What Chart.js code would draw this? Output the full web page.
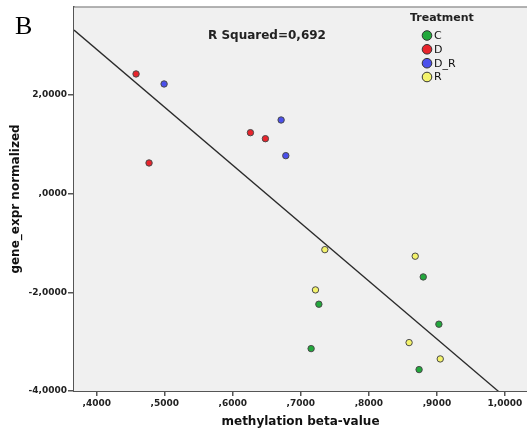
<!DOCTYPE html>
<html>
<head>
<meta charset="utf-8">
<script src="https://cdn.jsdelivr.net/npm/chart.js@4/dist/chart.umd.min.js"></script>
<style>
html,body{margin:0;padding:0;background:#fff;}
#wrap{width:527px;height:429px;position:relative;}
</style>
</head>
<body>
<div id="wrap"><canvas id="c" width="527" height="429"></canvas></div>
<script>
// ---- data ----
const groupNames = ['C', 'D', 'D_R', 'R'];
const groupColors = ['#22a83c', '#e8242c', '#4b50ec', '#f4f36c'];

const cX = [0.8799, 0.7265, 0.9029, 0.7151, 0.8738];
const cY = [-1.688, -2.241, -2.646, -3.141, -3.566];

const dX = [0.4578, 0.4769, 0.6259, 0.6479];
const dY = [2.426, 0.622, 1.236, 1.114];

const drX = [0.4990, 0.6710, 0.6779];
const drY = [2.223, 1.493, 0.770];

const rX = [0.7353, 0.8681, 0.7215, 0.8591, 0.9049];
const rY = [-1.135, -1.268, -1.951, -3.019, -3.350];

const fitIntercept = 7.62;
const fitSlope = -11.74;
const rSquaredText = 'R Squared=0,692';

const xTicks = [0.4, 0.5, 0.6, 0.7, 0.8, 0.9, 1.0];
const xTickLabels = [',4000', ',5000', ',6000', ',7000', ',8000', ',9000', '1,0000'];
const yTicks = [-4, -2, 0, 2];
const yTickLabels = ['-4,0000', '-2,0000', ',0000', '2,0000'];

const xMin = 0.3666, xMax = 1.0324;
const yMin = -4.0, yMax = 3.783;

// ---- build ----
function pts(xs, ys) { return xs.map((x, i) => ({x: x, y: ys[i]})); }
const groupsX = [cX, dX, drX, rX];
const groupsY = [cY, dY, drY, rY];

const datasets = groupNames.map((name, i) => ({
  type: 'scatter',
  label: name,
  data: pts(groupsX[i], groupsY[i]),
  backgroundColor: groupColors[i],
  borderColor: '#4a4a4a',
  borderWidth: 1,
  pointRadius: 3.2,
  order: 1
}));
datasets.push({
  type: 'line',
  label: 'fit',
  data: [{x: xMin, y: fitIntercept + fitSlope * xMin}, {x: xMax, y: fitIntercept + fitSlope * xMax}],
  borderColor: '#2a2a2a',
  borderWidth: 1.3,
  pointRadius: 0,
  fill: false,
  order: 5
});

const bgPlugin = {
  id: 'bg',
  afterLayout(chart) {
    // let the plot area run to the right edge of the canvas, as in the reference
    const a = chart.chartArea;
    const diff = chart.width - a.right;
    if (diff > 0) {
      a.right += diff; a.width += diff;
      const xs = chart.scales.x;
      xs.right += diff; xs.width += diff;
      xs.configure();
    }
  },
  beforeDatasetsDraw(chart) {
    const a = chart.chartArea, ctx = chart.ctx;
    ctx.save();
    ctx.fillStyle = '#f0f0f0';
    ctx.fillRect(a.left, a.top, a.right - a.left, a.bottom - a.top);
    ctx.strokeStyle = '#9a9a9a';
    ctx.lineWidth = 1.5;
    ctx.beginPath();
    ctx.moveTo(a.left, a.top);
    ctx.lineTo(a.right, a.top);
    ctx.stroke();
    ctx.restore();
  },
  afterDraw(chart) {
    const ctx = chart.ctx;
    ctx.save();
    ctx.fillStyle = '#000';
    ctx.font = '26px "Liberation Serif"';
    ctx.textBaseline = 'alphabetic';
    ctx.textAlign = 'left';
    ctx.fillText('B', 15, 34);
    ctx.fillStyle = '#222';
    ctx.font = 'bold 12px "DejaVu Sans"';
    ctx.textBaseline = 'middle';
    ctx.fillText(rSquaredText, 208, 36);
    ctx.font = 'bold 11px "DejaVu Sans"';
    ctx.fillText('Treatment', 410, 18.5);
    const ys = [35.5, 49.3, 63.2, 77];
    groupNames.forEach((n, i) => {
      ctx.beginPath();
      ctx.arc(427, ys[i], 4.8, 0, Math.PI * 2);
      ctx.fillStyle = groupColors[i];
      ctx.fill();
      ctx.strokeStyle = '#333';
      ctx.lineWidth = 1;
      ctx.stroke();
      ctx.fillStyle = '#111';
      ctx.font = '11px "DejaVu Sans"';
      ctx.fillText(n, 434, ys[i] + 0.5);
    });
    ctx.restore();
  }
};

Chart.defaults.font.family = '"DejaVu Sans"';
Chart.defaults.color = '#222';

new Chart(document.getElementById('c'), {
  data: {datasets: datasets},
  options: {
    responsive: false,
    animation: false,
    layout: {padding: {top: 7, right: 0, left: 0, bottom: 0}},
    plugins: {legend: {display: false}, tooltip: {enabled: false}},
    scales: {
      x: {
        type: 'linear',
        min: xMin, max: xMax,
        afterBuildTicks(s) { s.ticks = xTicks.map(v => ({value: v})); },
        afterFit(s) { s.height = 38; s.paddingLeft = 0; s.paddingRight = 0; },
        ticks: {
          font: {size: 9, weight: 'bold'},
          color: '#222',
          padding: 2,
          maxRotation: 0,
          autoSkip: false,
          callback(v, i) { return xTickLabels[i]; }
        },
        grid: {drawOnChartArea: false, drawTicks: true, tickLength: 5, color: '#555', lineWidth: 1.5},
        border: {display: true, color: '#555', width: 2},
        title: {display: true, text: 'methylation beta-value', font: {size: 12, weight: 'bold'}, color: '#111', padding: {top: 4, bottom: 0}}
      },
      y: {
        type: 'linear',
        min: yMin, max: yMax,
        afterBuildTicks(s) { s.ticks = yTicks.map(v => ({value: v})); },
        afterFit(s) { s.width = 74; s.paddingTop = 0; s.paddingBottom = 0; },
        ticks: {
          font: {size: 9, weight: 'bold'},
          color: '#222',
          padding: 1,
          autoSkip: false,
          callback(v, i) { return yTickLabels[i]; }
        },
        grid: {drawOnChartArea: false, drawTicks: true, tickLength: 6, color: '#555', lineWidth: 1.5},
        border: {display: true, color: '#555', width: 2},
        title: {display: true, text: 'gene_expr normalized', font: {size: 12, weight: 'bold'}, color: '#111', padding: {top: 9, bottom: 0}}
      }
    }
  },
  plugins: [bgPlugin]
});
</script>
</body>
</html>
